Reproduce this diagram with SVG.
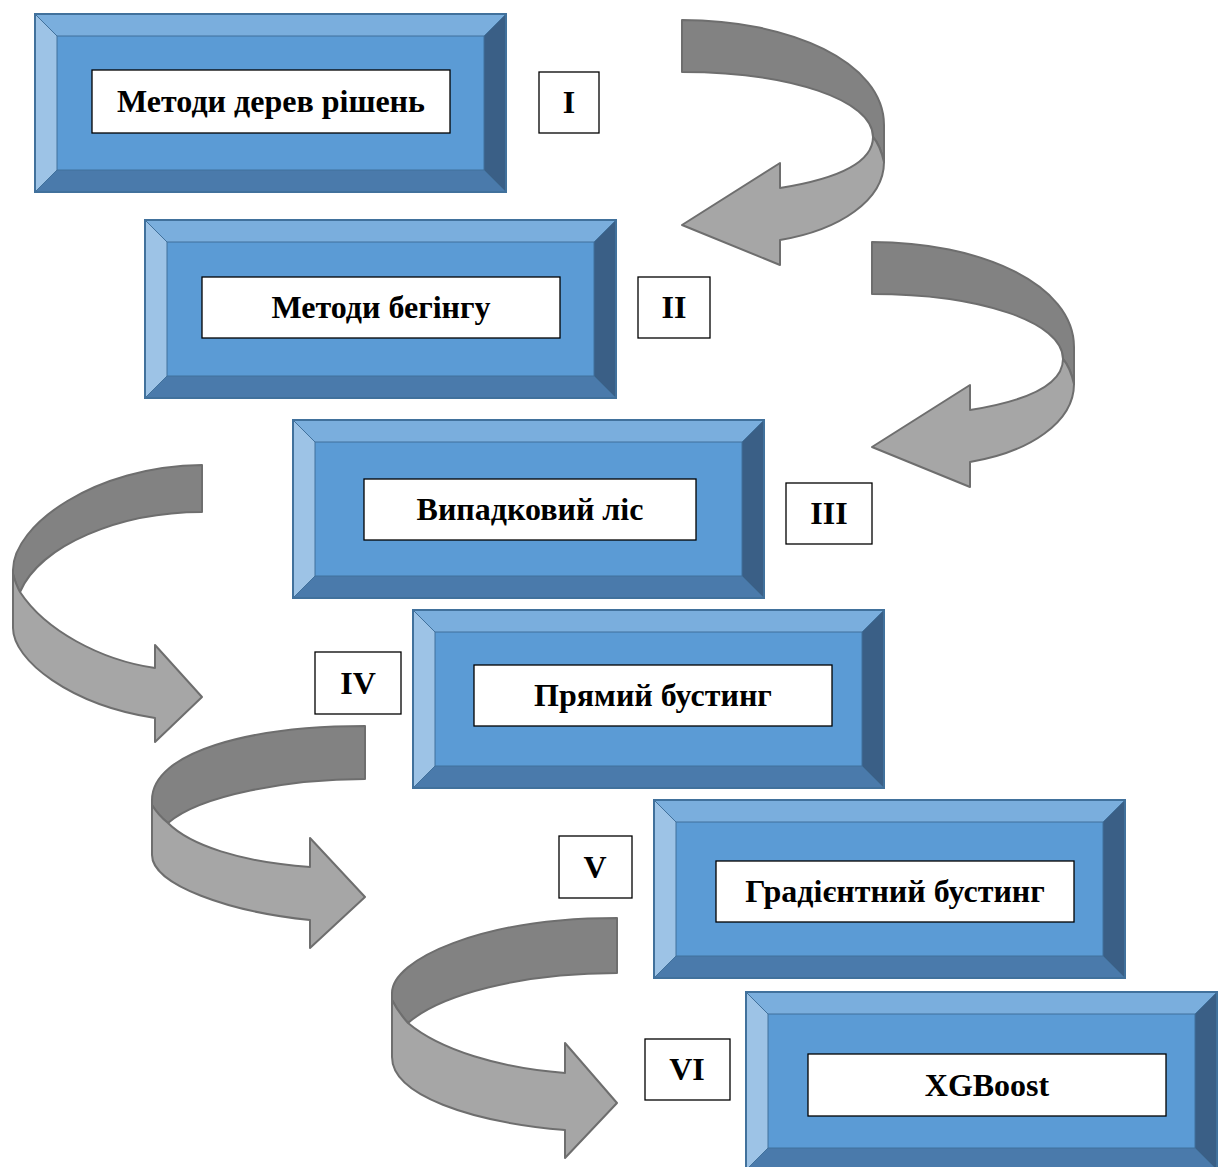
<svg xmlns="http://www.w3.org/2000/svg" xmlns:xlink="http://www.w3.org/1999/xlink" width="1222" height="1167" viewBox="0 0 1222 1167">
<style>
.bt{fill:#7aaedd}
.bl{fill:#9dc3e6}
.br{fill:#3a5f86}
.bb{fill:#4a7aab}
.bc{fill:#5b9bd5}
.bev{stroke:#41719c;stroke-width:1;stroke-linejoin:round}
.outer{fill:none;stroke:#41719c;stroke-width:2}
.wb{fill:#ffffff;stroke:#000000;stroke-width:1.3}
.lb{fill:#ffffff;stroke:#000000;stroke-width:1.3}
.t{font-family:"Liberation Serif","Times New Roman",serif;font-weight:bold;font-size:32px;fill:#000000;text-anchor:middle}
.dk{fill:#828282;stroke:#6e6e6e;stroke-width:2;stroke-linejoin:round}
.lt{fill:#a6a6a6;stroke:#6e6e6e;stroke-width:2;stroke-linejoin:round}
</style>
<defs>
<g id="box">
<rect class="bc" x="22" y="22" width="427" height="134"/>
<polygon class="bt bev" points="0,0 471,0 449,22 22,22"/>
<polygon class="bl bev" points="0,0 22,22 22,156 0,178"/>
<polygon class="br bev" points="471,0 471,178 449,156 449,22"/>
<polygon class="bb bev" points="0,178 22,156 449,156 471,178"/>
<rect class="outer" x="0" y="0" width="471" height="178"/>
</g>
<g id="arrowL">
<path class="dk" d="M682,20 C790,20 884,62 884,125 L884,162 Q880,145 873,137 C873,100 790,72 682,72 Z"/>
<path class="lt" d="M873,137 Q880,145 884,162 C884,200 840,230 780,240 L780,265 L682,225 L780,163 L780,188 C830,180 873,165 873,137 Z"/>
</g>
</defs>

<g id="connectors">
<use id="arrow1" xlink:href="#arrowL" href="#arrowL"/>
<use id="arrow2" xlink:href="#arrowL" href="#arrowL" transform="translate(190,222)"/>
<g id="arrow3">
<path class="dk" d="M202,465 C95,466 13,525 13,570 L13,574 Q16,585 20,592 C40,545 120,512 202,512 Z"/>
<path class="lt" d="M13,574 L13,628 C13,660 70,705 155,718 L155,742 L202,697 L155,645 L155,668 C100,660 45,630 20,592 Q16,585 13,574 Z"/>
</g>
<g id="arrow4">
<path class="dk" d="M365,726 C250,726 152,752 152,800 L152,805 Q158,815 168,823 C200,795 290,779 365,779 Z"/>
<path class="lt" d="M152,805 L152,855 C152,885 230,912 310,920 L310,948 L365,897 L310,838 L310,867 C240,862 190,845 168,823 Q158,815 152,805 Z"/>
</g>
<g id="arrow5">
<path class="dk" d="M617,918 C480,918 392,960 392,993 L392,1000 Q398,1012 408,1023 C440,995 520,973 617,973 Z"/>
<path class="lt" d="M392,1000 L392,1057 C392,1095 470,1122 565,1130 L565,1158 L617,1103 L565,1043 L565,1073 C500,1068 440,1050 408,1023 Q398,1012 392,1000 Z"/>
</g>
</g>

<g id="node1">
<use xlink:href="#box" href="#box" transform="translate(35,14)"/>
<rect class="wb" x="92" y="70" width="358" height="63"/>
<text class="t" x="271" y="112">Методи дерев рішень</text>
</g>
<g id="node2">
<use xlink:href="#box" href="#box" transform="translate(145,220)"/>
<rect class="wb" x="202" y="277" width="358" height="61"/>
<text class="t" x="381" y="318">Методи бегінгу</text>
</g>
<g id="node3">
<use xlink:href="#box" href="#box" transform="translate(293,420)"/>
<rect class="wb" x="364" y="479" width="332" height="61"/>
<text class="t" x="530" y="520">Випадковий ліс</text>
</g>
<g id="node4">
<use xlink:href="#box" href="#box" transform="translate(413,610)"/>
<rect class="wb" x="474" y="665" width="358" height="61"/>
<text class="t" x="653" y="706">Прямий бустинг</text>
</g>
<g id="node5">
<use xlink:href="#box" href="#box" transform="translate(654,800)"/>
<rect class="wb" x="716" y="861" width="358" height="61"/>
<text class="t" x="895" y="902">Градієнтний бустинг</text>
</g>
<g id="node6">
<use xlink:href="#box" href="#box" transform="translate(746,992)"/>
<rect class="wb" x="808" y="1054" width="358" height="62"/>
<text class="t" x="987" y="1096">XGBoost</text>
</g>

<g id="label1"><rect class="lb" x="539" y="72" width="60" height="61"/><text class="t" x="569" y="113">I</text></g>
<g id="label2"><rect class="lb" x="638" y="277" width="72" height="61"/><text class="t" x="674" y="318">II</text></g>
<g id="label3"><rect class="lb" x="786" y="483" width="86" height="61"/><text class="t" x="829" y="524">III</text></g>
<g id="label4"><rect class="lb" x="315" y="652" width="86" height="62"/><text class="t" x="358" y="694">IV</text></g>
<g id="label5"><rect class="lb" x="559" y="836" width="73" height="62"/><text class="t" x="595" y="878">V</text></g>
<g id="label6"><rect class="lb" x="645" y="1039" width="85" height="61"/><text class="t" x="687" y="1080">VI</text></g>
</svg>
